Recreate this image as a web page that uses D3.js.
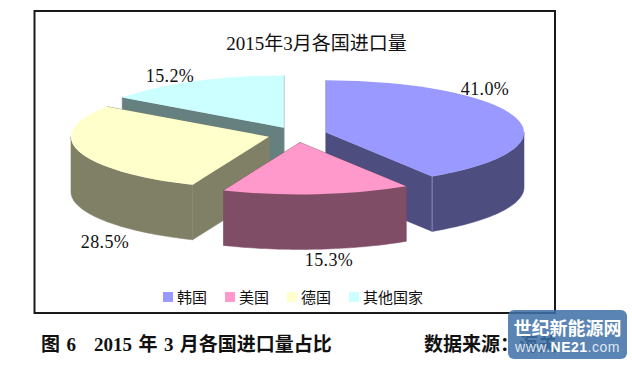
<!DOCTYPE html>
<html>
<head>
<meta charset="utf-8">
<style>
    html, body { margin: 0; padding: 0; background: #fff; }
    svg { display: block; }
    text { font-family: "Liberation Serif", "Noto Sans CJK SC", serif; fill: #111; }
</style>
<script src="https://cdn.jsdelivr.net/npm/d3@7"></script>
</head>
<body>
<div id="chart"></div>
<script>
const chartTitle = "2015年3月各国进口量";
const categories = ["韩国", "美国", "德国", "其他国家"];
const shares = [41.0, 15.3, 28.5, 15.2];
const topColors = ["#9999ff", "#ff99cc", "#ffffcc", "#ccffff"];
const sideColors = ["#4d4d80", "#804d66", "#808066", "#668080"];

const width = 632, height = 365;
const center = {x: 297.5, y: 134.6};
const rx = 198, squash = 0.263, depth = 55, explode = 29.7;

// label centres, same order as the data
const labelPos = [[485, 89], [329, 260], [105, 242], [170, 76]];

const svg = d3.select("#chart").append("svg")
    .attr("width", width)
    .attr("height", height);

svg.append("rect")
    .attr("x", 34.5).attr("y", 11)
    .attr("width", 520.5).attr("height", 302)
    .attr("fill", "#fff")
    .attr("stroke", "#1a1a1a")
    .attr("stroke-width", 2);

svg.append("text")
    .attr("x", 316.5).attr("y", 50)
    .attr("text-anchor", "middle")
    .attr("font-size", 19)
    .text(chartTitle);

const pie = d3.pie().sort(null).value(d => d.share);
const slices = pie(categories.map((name, i) => ({name, share: shares[i], i})));

const arc = d3.arc().innerRadius(0).outerRadius(rx);

// apex of an exploded slice on screen
const apex = s => {
    const mid = (s.startAngle + s.endAngle) / 2;
    return [center.x + explode * Math.sin(mid), center.y - explode * squash * Math.cos(mid)];
};
const rim = (s, a) => {
    const [ax, ay] = apex(s);
    return [ax + rx * Math.sin(a), ay - rx * squash * Math.cos(a)];
};
const line = d3.line();

const drawWall = (g, s, from, to) => {
    if (to <= from) return;
    const top = d3.range(0, 41).map(k => rim(s, from + (to - from) * k / 40));
    const bottom = top.map(p => [p[0], p[1] + depth]).reverse();
    g.append("path")
        .attr("d", line(top.concat(bottom)) + "Z")
        .attr("fill", sideColors[s.data.i])
        .attr("stroke", sideColors[s.data.i])
        .attr("stroke-width", 0.5);
};

const drawCut = (g, s, a) => {
    const p = apex(s), q = rim(s, a);
    g.append("path")
        .attr("d", line([p, q, [q[0], q[1] + depth], [p[0], p[1] + depth]]) + "Z")
        .attr("fill", sideColors[s.data.i])
        .attr("stroke", sideColors[s.data.i])
        .attr("stroke-width", 0.5);
};

// painter's order, back slices first
[3, 2, 0, 1].forEach(i => {
    const s = slices[i];
    const g = svg.append("g").attr("class", "slice");
    drawCut(g, s, s.startAngle);
    drawCut(g, s, s.endAngle);
    drawWall(g, s, Math.max(s.startAngle, Math.PI / 2), Math.min(s.endAngle, Math.PI * 1.5));

    // thin light seam where cut face meets the wall
    if (i === 0) {
        const q = rim(s, s.endAngle);
        g.append("line")
            .attr("x1", q[0]).attr("y1", q[1])
            .attr("x2", q[0]).attr("y2", q[1] + depth)
            .attr("stroke", "#9a9ac4")
            .attr("stroke-width", 0.8);
    }

    const [ax, ay] = apex(s);
    g.append("path")
        .attr("d", arc(s))
        .attr("transform", `translate(${ax},${ay}) scale(1,${squash})`)
        .attr("fill", topColors[i]);
});

svg.selectAll("text.pct")
    .data(slices)
    .join("text")
    .attr("class", "pct")
    .attr("x", (d, i) => labelPos[i][0])
    .attr("y", (d, i) => labelPos[i][1] + 6)
    .attr("text-anchor", "middle")
    .attr("font-size", 18)
    .style("letter-spacing", "0.4px")
    .text(d => d.data.share.toFixed(1) + "%");

// legend
const legendX = [163, 225, 287, 349];
const legend = svg.selectAll("g.legend")
    .data(categories)
    .join("g")
    .attr("class", "legend")
    .attr("transform", (d, i) => `translate(${legendX[i]},292)`);
legend.append("rect")
    .attr("width", 10).attr("height", 10)
    .attr("fill", (d, i) => topColors[i]);
legend.append("text")
    .attr("x", 14).attr("y", 10.5)
    .attr("font-size", 15)
    .text(d => d);

// caption under the frame
const caption = [
    [41, "图 6"],
    [94, "2015 年 3 月各国进口量占比"],
    [424, "数据来源：海关"]
];
svg.selectAll("text.caption")
    .data(caption)
    .join("text")
    .attr("class", "caption")
    .attr("x", d => d[0])
    .attr("y", 351)
    .attr("font-size", 19)
    .attr("font-weight", "bold")
    .style("word-spacing", "1.7px")
    .text(d => d[1]);

// site watermark, sits over the end of the caption
svg.append("rect")
    .attr("x", 508).attr("y", 310)
    .attr("width", 119).attr("height", 49)
    .attr("rx", 6)
    .attr("fill", "#3f70a6")
    .attr("opacity", 0.86);
svg.append("text")
    .attr("x", 567.5).attr("y", 335)
    .attr("text-anchor", "middle")
    .attr("font-size", 18)
    .attr("font-weight", "bold")
    .style("font-family", "'Noto Sans CJK SC', sans-serif")
    .style("fill", "#fff")
    .text("世纪新能源网");
const url = svg.append("text")
    .attr("x", 567.5).attr("y", 352)
    .attr("text-anchor", "middle")
    .attr("font-size", 14)
    .style("font-family", "'Liberation Sans', sans-serif")
    .style("letter-spacing", "0.5px")
    .style("fill", "#dfe8f2");
url.append("tspan").text("www.");
url.append("tspan").attr("font-weight", "bold").style("fill", "#fff").text("NE21");
url.append("tspan").text(".com");
</script>
</body>
</html>
